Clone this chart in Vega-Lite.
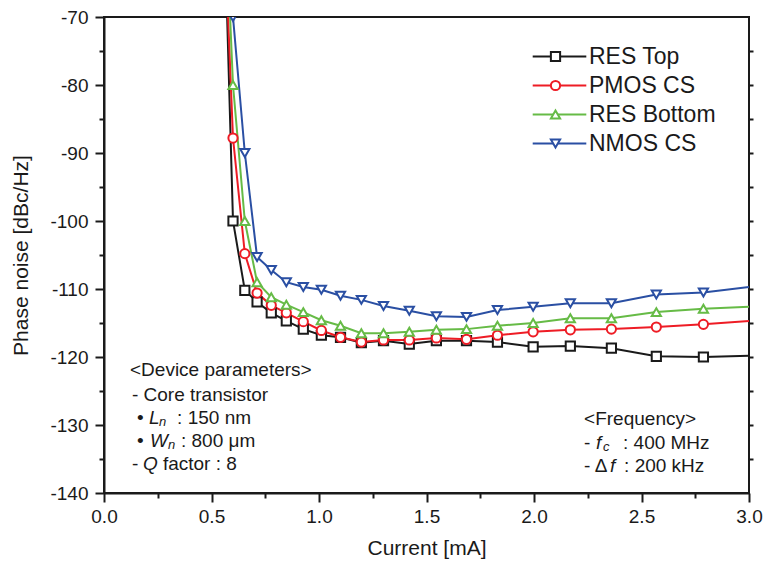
{
  "$schema": "https://vega.github.io/schema/vega-lite/v6.json",
  "width": 645,
  "height": 476,
  "autosize": {"type": "none"},
  "padding": {"left": 104, "top": 17, "right": 17, "bottom": 70},
  "background": "white",
  "config": {
    "font": "Liberation Sans",
    "view": {"stroke": "#1a1a1a", "strokeWidth": 2},
    "axis": {
      "grid": false,
      "domainColor": "#1a1a1a",
      "domainWidth": 2,
      "tickColor": "#1a1a1a",
      "tickWidth": 2,
      "labelColor": "#1a1a1a",
      "titleColor": "#1a1a1a",
      "labelFont": "Liberation Sans",
      "titleFont": "Liberation Sans",
      "titleFontWeight": "normal",
      "labelFontSize": 19,
      "titleFontSize": 21,
      "labelFlush": false,
      "labelOverlap": false,
      "labelBound": false
    }
  },
  "datasets": {
    "curves": [
      {"series": "RES Top", "I": 0.55, "v": -45},
      {"series": "RES Top", "I": 0.6, "v": -100},
      {"series": "RES Top", "I": 0.655, "v": -110.2},
      {"series": "RES Top", "I": 0.712, "v": -111.9},
      {"series": "RES Top", "I": 0.778, "v": -113.5},
      {"series": "RES Top", "I": 0.848, "v": -114.7},
      {"series": "RES Top", "I": 0.927, "v": -115.9},
      {"series": "RES Top", "I": 1.011, "v": -116.8},
      {"series": "RES Top", "I": 1.1, "v": -117.1},
      {"series": "RES Top", "I": 1.197, "v": -117.9},
      {"series": "RES Top", "I": 1.3, "v": -117.6},
      {"series": "RES Top", "I": 1.42, "v": -118.1},
      {"series": "RES Top", "I": 1.546, "v": -117.6},
      {"series": "RES Top", "I": 1.686, "v": -117.6},
      {"series": "RES Top", "I": 1.83, "v": -117.8},
      {"series": "RES Top", "I": 1.996, "v": -118.5},
      {"series": "RES Top", "I": 2.169, "v": -118.4},
      {"series": "RES Top", "I": 2.36, "v": -118.7},
      {"series": "RES Top", "I": 2.569, "v": -119.9},
      {"series": "RES Top", "I": 2.788, "v": -120.0},
      {"series": "RES Top", "I": 3.0, "v": -119.8},
      {"series": "PMOS CS", "I": 0.55, "v": -49},
      {"series": "PMOS CS", "I": 0.6, "v": -87.8},
      {"series": "PMOS CS", "I": 0.655, "v": -104.8},
      {"series": "PMOS CS", "I": 0.712, "v": -110.6},
      {"series": "PMOS CS", "I": 0.778, "v": -112.4},
      {"series": "PMOS CS", "I": 0.848, "v": -113.5},
      {"series": "PMOS CS", "I": 0.927, "v": -114.8},
      {"series": "PMOS CS", "I": 1.011, "v": -116.1},
      {"series": "PMOS CS", "I": 1.1, "v": -117.1},
      {"series": "PMOS CS", "I": 1.197, "v": -117.8},
      {"series": "PMOS CS", "I": 1.3, "v": -117.5},
      {"series": "PMOS CS", "I": 1.42, "v": -117.5},
      {"series": "PMOS CS", "I": 1.546, "v": -117.2},
      {"series": "PMOS CS", "I": 1.686, "v": -117.4},
      {"series": "PMOS CS", "I": 1.83, "v": -116.8},
      {"series": "PMOS CS", "I": 1.996, "v": -116.3},
      {"series": "PMOS CS", "I": 2.169, "v": -116.0},
      {"series": "PMOS CS", "I": 2.36, "v": -115.9},
      {"series": "PMOS CS", "I": 2.569, "v": -115.6},
      {"series": "PMOS CS", "I": 2.788, "v": -115.2},
      {"series": "PMOS CS", "I": 3.0, "v": -114.7},
      {"series": "RES Bottom", "I": 0.55, "v": -43},
      {"series": "RES Bottom", "I": 0.6, "v": -80},
      {"series": "RES Bottom", "I": 0.655, "v": -100},
      {"series": "RES Bottom", "I": 0.712, "v": -109},
      {"series": "RES Bottom", "I": 0.778, "v": -111.2},
      {"series": "RES Bottom", "I": 0.848, "v": -112.3},
      {"series": "RES Bottom", "I": 0.927, "v": -113.4},
      {"series": "RES Bottom", "I": 1.011, "v": -114.6},
      {"series": "RES Bottom", "I": 1.1, "v": -115.4},
      {"series": "RES Bottom", "I": 1.197, "v": -116.5},
      {"series": "RES Bottom", "I": 1.3, "v": -116.5},
      {"series": "RES Bottom", "I": 1.42, "v": -116.3},
      {"series": "RES Bottom", "I": 1.546, "v": -116.0},
      {"series": "RES Bottom", "I": 1.686, "v": -115.9},
      {"series": "RES Bottom", "I": 1.83, "v": -115.4},
      {"series": "RES Bottom", "I": 1.996, "v": -115.0},
      {"series": "RES Bottom", "I": 2.169, "v": -114.3},
      {"series": "RES Bottom", "I": 2.36, "v": -114.3},
      {"series": "RES Bottom", "I": 2.569, "v": -113.4},
      {"series": "RES Bottom", "I": 2.788, "v": -112.9},
      {"series": "RES Bottom", "I": 3.0, "v": -112.6},
      {"series": "NMOS CS", "I": 0.55, "v": -40},
      {"series": "NMOS CS", "I": 0.6, "v": -70},
      {"series": "NMOS CS", "I": 0.655, "v": -90},
      {"series": "NMOS CS", "I": 0.712, "v": -105.3},
      {"series": "NMOS CS", "I": 0.778, "v": -107.2},
      {"series": "NMOS CS", "I": 0.848, "v": -109.0},
      {"series": "NMOS CS", "I": 0.927, "v": -109.7},
      {"series": "NMOS CS", "I": 1.011, "v": -110.1},
      {"series": "NMOS CS", "I": 1.1, "v": -111.0},
      {"series": "NMOS CS", "I": 1.197, "v": -111.6},
      {"series": "NMOS CS", "I": 1.3, "v": -112.5},
      {"series": "NMOS CS", "I": 1.42, "v": -113.2},
      {"series": "NMOS CS", "I": 1.546, "v": -114.0},
      {"series": "NMOS CS", "I": 1.686, "v": -114.1},
      {"series": "NMOS CS", "I": 1.83, "v": -113.1},
      {"series": "NMOS CS", "I": 1.996, "v": -112.6},
      {"series": "NMOS CS", "I": 2.169, "v": -112.1},
      {"series": "NMOS CS", "I": 2.36, "v": -112.1},
      {"series": "NMOS CS", "I": 2.569, "v": -110.8},
      {"series": "NMOS CS", "I": 2.788, "v": -110.5},
      {"series": "NMOS CS", "I": 3.0, "v": -109.7}
    ],
    "notes": [
      {"x": 0.121, "y": -121.9, "t": "<Device parameters>"},
      {"x": 0.130, "y": -125.6, "t": "- Core transistor"},
      {"x": 0.153, "y": -129.0, "t": "•"},
      {"x": 0.340, "y": -129.0, "t": ": 150 nm"},
      {"x": 0.153, "y": -132.4, "t": "•"},
      {"x": 0.358, "y": -132.4, "t": ": 800 μm"},
      {"x": 0.130, "y": -135.7, "t": "-"},
      {"x": 0.274, "y": -135.7, "t": "factor : 8"},
      {"x": 2.233, "y": -129.1, "t": "<Frequency>"},
      {"x": 2.233, "y": -132.6, "t": "-"},
      {"x": 2.414, "y": -132.6, "t": ": 400 MHz"},
      {"x": 2.233, "y": -136.0, "t": "- Δ"},
      {"x": 2.419, "y": -136.0, "t": ": 200 kHz"}
    ],
    "italic": [
      {"x": 0.209, "y": -129.0, "t": "L"},
      {"x": 0.214, "y": -132.4, "t": "W"},
      {"x": 0.181, "y": -135.7, "t": "Q"},
      {"x": 2.288, "y": -132.6, "t": "f"},
      {"x": 2.353, "y": -136.0, "t": "f"}
    ],
    "subs": [
      {"x": 0.256, "y": -129.6, "t": "n"},
      {"x": 0.298, "y": -133.0, "t": "n"},
      {"x": 2.321, "y": -133.2, "t": "c"}
    ]
  },
  "layer": [
    {
      "data": {"name": "curves"},
      "mark": {"type": "line", "strokeWidth": 2, "clip": true},
      "encoding": {
        "x": {
          "field": "I", "type": "quantitative",
          "scale": {"domain": [0, 3], "nice": false, "zero": false},
          "axis": {
            "orient": "bottom",
            "values": [0, 0.25, 0.5, 0.75, 1, 1.25, 1.5, 1.75, 2, 2.25, 2.5, 2.75, 3],
            "labelExpr": "(datum.value * 2) % 1 === 0 ? format(datum.value, '.1f') : ''",
            "tickSize": {"condition": {"test": "(datum.value * 2) % 1 === 0", "value": 9}, "value": 5},
            "labelPadding": 5,
            "title": "Current [mA]",
            "titlePadding": 11
          }
        },
        "y": {
          "field": "v", "type": "quantitative",
          "scale": {"domain": [-140, -70], "nice": false, "zero": false},
          "axis": {
            "orient": "left",
            "values": [-140, -135, -130, -125, -120, -115, -110, -105, -100, -95, -90, -85, -80, -75, -70],
            "labelExpr": "datum.value % 10 === 0 ? '' + datum.value : ''",
            "tickSize": {"condition": {"test": "datum.value % 10 === 0", "value": 9}, "value": 5},
            "labelPadding": 7,
            "title": "Phase noise [dBc/Hz]",
            "titlePadding": 18
          }
        },
        "color": {
          "field": "series", "type": "nominal",
          "sort": ["RES Top", "PMOS CS", "RES Bottom", "NMOS CS"],
          "scale": {"range": ["#1a1a1a", "#ee1c25", "#66bb46", "#2a4fa3"]},
          "legend": {
            "orient": "none", "legendX": 444, "legendY": 28, "title": null, "padding": 0,
            "labelFontSize": 23, "labelOpacity": 0,
            "symbolType": "M-6.7,0H6.7", "symbolSize": 64, "symbolStrokeWidth": 2,
            "labelOffset": 22, "rowPadding": 5
          }
        }
      }
    },
    {
      "data": {"name": "curves"},
      "transform": [{"filter": "datum.I < 2.99"}],
      "mark": {"type": "point", "filled": false, "opacity": 1, "strokeWidth": 2, "clip": true},
      "encoding": {
        "x": {"field": "I", "type": "quantitative", "axis": null},
        "y": {"field": "v", "type": "quantitative", "axis": {"orient": "right", "values": [-135, -130, -125, -120, -115, -110, -105, -100, -95, -90, -85, -80, -75], "tickSize": 4, "labels": false, "domain": false, "title": null}},
        "fill": {"value": "white"},
        "stroke": {
          "field": "series", "type": "nominal",
          "scale": {"domain": ["RES Top", "PMOS CS", "RES Bottom", "NMOS CS"], "range": ["#1a1a1a", "#ee1c25", "#66bb46", "#2a4fa3"]},
          "legend": {
            "orient": "none", "legendX": 440, "legendY": 28, "title": null, "padding": 0,
            "labelFontSize": 23, "labelColor": "#1a1a1a",
            "symbolStrokeWidth": 2, "symbolFillColor": "white", "labelOffset": 22, "rowPadding": 5
          }
        },
        "shape": {
          "field": "series", "type": "nominal",
          "scale": {"domain": ["RES Top", "PMOS CS", "RES Bottom", "NMOS CS"], "range": ["square", "circle", "triangle-up", "triangle-down"]}
        },
        "size": {
          "field": "series", "type": "nominal",
          "scale": {"domain": ["RES Top", "PMOS CS", "RES Bottom", "NMOS CS"], "range": [85, 85, 165, 165]}
        }
      }
    },
    {
      "data": {"name": "notes"},
      "mark": {"type": "text", "align": "left", "baseline": "middle", "fontSize": 19, "font": "Liberation Sans", "color": "#1a1a1a"},
      "encoding": {
        "x": {"field": "x", "type": "quantitative", "axis": null},
        "y": {"field": "y", "type": "quantitative", "axis": null},
        "text": {"field": "t"}
      }
    },
    {
      "data": {"name": "italic"},
      "mark": {"type": "text", "align": "left", "baseline": "middle", "fontSize": 19, "fontStyle": "italic", "font": "Liberation Sans", "color": "#1a1a1a"},
      "encoding": {
        "x": {"field": "x", "type": "quantitative", "axis": null},
        "y": {"field": "y", "type": "quantitative", "axis": null},
        "text": {"field": "t"}
      }
    },
    {
      "data": {"name": "subs"},
      "mark": {"type": "text", "align": "left", "baseline": "middle", "fontSize": 13, "fontStyle": "italic", "font": "Liberation Sans", "color": "#1a1a1a"},
      "encoding": {
        "x": {"field": "x", "type": "quantitative", "axis": null},
        "y": {"field": "y", "type": "quantitative", "axis": null},
        "text": {"field": "t"}
      }
    }
  ],
  "resolve": {"axis": {"x": "independent", "y": "independent"}}
}
